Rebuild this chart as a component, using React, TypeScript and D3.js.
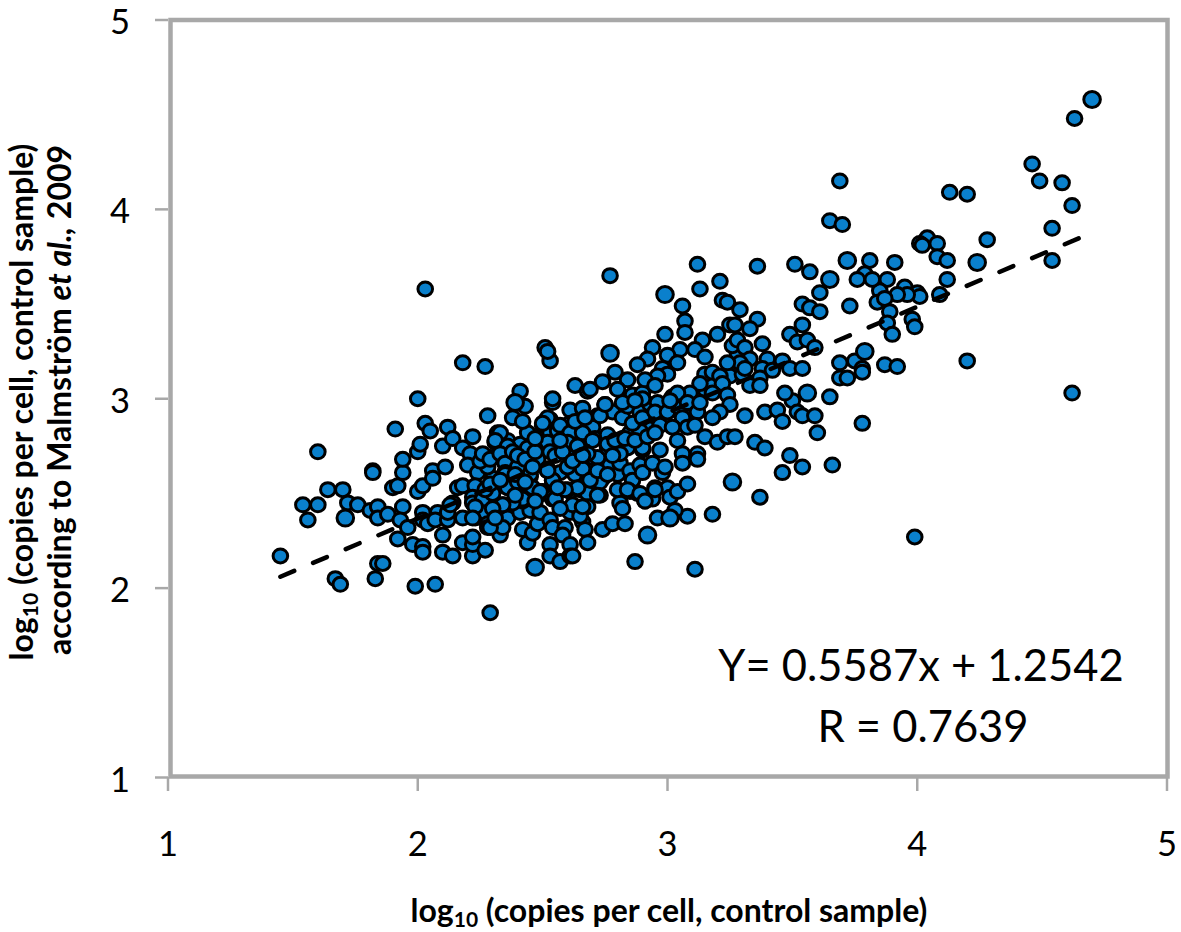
import React from "react";
import * as d3 from "d3";

// values: [log10 copies control, log10 copies Malmström]
const lowTail: number[][] = [
  [1.45,2.17],[1.67,2.05],[1.69,2.02],[1.83,2.05],[1.84,2.13],[1.86,2.13],[1.99,2.01],[2.07,2.02],[2.29,1.87],
  [1.54,2.44],[1.60,2.44],[1.56,2.36],[1.64,2.52],[1.70,2.52],[1.72,2.45],[1.71,2.37],[1.76,2.44],[1.81,2.41],
  [1.84,2.43],[1.84,2.37],[1.88,2.39],[1.94,2.43],[1.93,2.36],[1.92,2.26],[1.96,2.32],[1.98,2.23],[2.02,2.22],
  [2.02,2.19],[2.10,2.19],[2.14,2.17],[2.10,2.28],[2.18,2.24],[2.22,2.17],[2.22,2.23],[2.27,2.20],[2.22,2.27],
  [1.60,2.72],[1.82,2.62],[1.82,2.61],[1.90,2.53],[1.92,2.54],[1.94,2.61],[1.94,2.68],[1.91,2.84],[2.00,3.00],
  [2.00,2.72],[2.01,2.76],[2.03,2.87],[2.05,2.83],[2.10,2.75],[2.12,2.85],[2.14,2.79],[2.18,2.74],[2.22,2.80],
  [2.21,2.71],[2.18,3.19],[2.27,3.17],[2.28,2.91],[2.00,2.51],[2.02,2.54],[2.06,2.62],[2.06,2.58],[2.11,2.64],
  [2.16,2.53],[2.18,2.54],[2.20,2.65],[2.24,2.61],[2.23,2.54],[2.22,2.48],[2.22,2.45],[2.14,2.45],[2.02,2.40],
  [2.02,2.36],[2.04,2.34],[2.08,2.40],[2.07,2.36],[2.12,2.36],[2.12,2.40],[2.18,2.37],[2.23,2.37],[2.27,2.40],
  [2.28,2.34],[2.28,2.32],[2.03,3.58],
];

const denseLeft: number[][] = [
  [2.33,2.28],[2.42,2.31],[2.44,2.24],[2.46,2.29],[2.53,2.23],[2.53,2.17],[2.57,2.14],[2.34,2.44],[2.35,2.40],
  [2.36,2.37],[2.34,2.32],[2.41,2.40],[2.45,2.41],[2.48,2.34],[2.49,2.40],[2.53,2.36],[2.54,2.32],[2.50,2.50],
  [2.54,2.47],[2.42,2.46],[2.40,2.49],[2.36,2.53],[2.30,2.58],[2.35,2.61],[2.41,2.64],[2.45,2.59],[2.45,2.53],
  [2.28,2.64],[2.25,2.67],[2.29,2.69],[2.33,2.69],[2.35,2.67],[2.38,2.69],[2.48,2.68],[2.52,2.62],[2.54,2.57],
  [2.31,2.77],[2.32,2.82],[2.36,2.78],[2.41,2.76],[2.44,2.82],[2.44,2.74],[2.38,2.90],[2.42,2.88],[2.39,2.98],
  [2.41,3.04],[2.43,2.96],[2.50,2.86],[2.53,2.89],[2.54,2.98],[2.54,3.00],[2.53,2.73],[2.52,2.78],[2.51,3.27],
  [2.53,3.20],[2.52,3.25],[2.33,2.82],[2.31,2.78],[2.36,2.75],[2.53,2.82],[2.52,2.77],[2.56,2.83],[2.52,2.90],
  [2.50,2.87],[2.53,2.72],[2.26,2.71],[2.29,2.68],[2.33,2.71],[2.35,2.66],[2.40,2.64],[2.35,2.61],[2.46,2.53],
  [2.52,2.63],[2.57,2.61],[2.54,2.57],[2.36,2.53],[2.40,2.56],[2.50,2.51],[2.54,2.48],[2.42,2.47],[2.38,2.45],
  [2.34,2.44],[2.26,2.47],[2.30,2.50],
];

const denseCentre: number[][] = [
  [2.61,2.94],[2.66,2.95],[2.72,2.91],[2.75,2.97],[2.63,3.07],[2.68,3.04],[2.61,2.87],[2.60,2.77],[2.67,2.81],
  [2.70,2.85],[2.71,2.79],[2.76,2.80],[2.60,2.64],[2.66,2.63],[2.63,2.60],[2.70,2.58],[2.74,2.66],[2.70,2.69],
  [2.61,2.51],[2.65,2.52],[2.73,2.49],[2.57,2.86],[2.61,2.82],[2.66,2.82],[2.78,2.93],[2.82,2.90],[2.73,2.91],
  [2.84,2.96],[2.85,2.82],[2.89,2.82],[2.94,2.88],[2.98,2.88],[2.76,2.81],[2.89,2.93],[2.93,2.97],[2.86,3.02],
  [2.90,3.03],[2.96,2.98],[2.75,2.97],[2.77,2.65],[2.80,2.60],[2.74,2.58],[2.73,2.56],[2.68,2.57],[2.66,2.63],
  [2.60,2.64],[2.54,2.57],[2.52,2.62],[2.72,2.69],[2.68,2.71],[2.63,2.70],[2.60,2.77],[2.76,2.74],[2.70,2.78],
  [2.81,2.66],[2.84,2.74],[2.81,2.71],[2.85,2.62],[2.86,2.57],[2.90,2.73],[2.89,2.65],[2.90,2.61],[2.97,2.73],
  [2.94,2.66],[2.98,2.61],[2.99,2.64],[2.81,2.45],[2.82,2.42],[2.80,2.52],[2.85,2.51],[2.88,2.50],[2.91,2.46],
  [2.94,2.47],[2.95,2.53],[3.00,2.53],[3.01,2.48],[3.04,2.51],[2.60,2.52],[2.68,2.50],[2.72,2.49],[2.64,2.53],
  [2.61,2.40],[2.65,2.40],[2.62,2.44],[2.68,2.43],[2.66,2.35],[2.59,2.32],[2.58,2.28],[2.61,2.23],[2.61,2.17],
  [2.67,2.31],[2.68,2.24],[2.74,2.31],[2.78,2.34],[2.83,2.34],[2.96,2.37],[3.01,2.37],[3.03,2.40],[3.08,2.38],
  [2.87,2.14],[3.11,2.10],[2.92,2.28],[3.18,2.39],[3.08,2.55],
];

const stackedExtras: number[][] = [
  [2.90,3.00],[2.93,2.84],[2.97,2.86],[2.89,2.83],[2.76,2.76],[2.84,2.52],[2.89,2.50],[2.95,2.52],[2.35,2.60],
  [2.45,2.60],[2.49,2.51],[2.55,2.47],[2.59,2.52],[2.23,2.43],[2.13,2.44],[2.22,2.37],[2.29,2.32],[2.39,2.49],
  [2.69,2.57],[2.90,2.74],[2.91,2.46],[2.65,2.38],[2.66,2.43],[2.62,2.17],[3.03,2.41],[2.38,2.72],[2.40,2.70],
  [2.43,2.68],[2.47,2.72],[2.46,2.64],[2.39,2.60],[2.55,2.70],[2.58,2.72],[2.62,2.67],[2.64,2.75],[2.66,2.70],
  [2.72,2.62],[2.76,2.60],[2.78,2.70],[2.79,2.78],[2.83,2.79],[2.87,2.78],[2.92,2.80],[2.95,2.82],[2.86,2.87],
  [2.90,2.90],[2.82,2.98],[2.87,2.99],[2.95,2.93],[3.00,2.93],[3.05,2.95],[3.10,2.97],[3.15,3.05],[3.17,3.09],
  [3.25,3.12],[3.28,3.24],[3.30,3.13],[2.57,2.42],[2.56,2.53],[2.47,2.46],[2.30,2.42],[2.31,2.37],[2.27,2.52],
  [2.29,2.55],[2.33,2.57],[2.43,2.56],[2.47,2.79],[2.57,2.78],[2.63,2.88],[2.67,2.90],
];

const upperCloud: number[][] = [
  [2.77,3.65],[3.12,3.71],[3.36,3.70],[3.51,3.71],[3.57,3.67],[2.99,3.55],[3.06,3.49],[3.13,3.58],[3.21,3.62],
  [3.22,3.52],[3.24,3.51],[3.29,3.47],[3.36,3.42],[3.25,3.39],[3.27,3.39],[3.33,3.37],[3.54,3.50],[3.57,3.48],
  [3.61,3.46],[3.54,3.39],[3.49,3.34],[3.52,3.30],[3.56,3.31],[3.59,3.27],[3.07,3.41],[3.07,3.35],[2.99,3.34],
  [3.14,3.31],[3.20,3.34],[3.26,3.28],[3.28,3.31],[3.31,3.27],[3.38,3.29],[3.33,3.21],[3.29,3.19],[3.31,3.16],
  [3.24,3.19],[3.40,3.21],[3.38,3.16],[3.46,3.20],[3.42,3.15],[3.49,3.16],[3.54,3.16],[3.37,3.11],[3.33,3.07],
  [3.37,3.07],[2.94,3.27],[3.05,3.26],[3.11,3.26],[3.15,3.22],[3.00,3.23],[2.92,3.21],[2.88,3.18],[2.77,3.24],
  [3.04,3.19],[2.98,3.16],[3.00,3.13],[2.96,3.12],[2.91,3.10],[2.79,3.14],[2.74,3.09],[2.95,3.07],[2.84,3.10],
  [2.80,3.05],[2.69,3.05],[3.15,3.13],[3.18,3.14],[3.21,3.12],[3.13,3.08],[3.22,3.08],[3.18,3.03],[3.24,3.02],
  [3.25,2.97],[3.21,2.93],[3.18,2.90],[3.09,3.03],[3.02,3.01],[3.04,3.03],[3.01,2.99],[3.08,2.98],[3.12,2.93],
  [3.13,2.98],[3.06,2.90],[3.02,2.85],[3.08,2.85],[3.11,2.86],[3.15,2.80],[3.20,2.77],[3.24,2.80],[3.27,2.80],
  [3.04,2.78],[3.06,2.71],[3.06,2.66],[3.12,2.71],[3.12,2.68],
];

const rightSide: number[][] = [
  [3.31,2.91],[3.39,2.93],[3.44,2.94],[3.50,2.99],[3.47,3.03],[3.56,3.03],[3.65,3.01],[3.52,2.93],[3.54,2.91],
  [3.59,2.91],[3.46,2.88],[3.60,2.82],[3.35,2.77],[3.39,2.74],[3.49,2.70],[3.54,2.64],[3.66,2.65],[3.46,2.61],
  [3.26,2.56],[3.37,2.48],[4.70,4.58],[4.63,4.48],[4.46,4.24],[4.49,4.15],[4.58,4.14],[4.62,4.02],[4.54,3.90],
  [4.54,3.73],[4.28,3.84],[4.13,4.09],[4.20,4.08],[4.24,3.72],[3.69,4.15],[3.65,3.94],[3.70,3.92],[4.04,3.85],
  [4.01,3.82],[4.02,3.81],[4.08,3.82],[4.08,3.75],[4.12,3.73],[4.12,3.63],[4.09,3.55],[4.00,3.56],[4.01,3.54],
  [3.95,3.59],[3.96,3.55],[3.92,3.55],[3.88,3.63],[3.91,3.72],[3.81,3.73],[3.72,3.73],[3.85,3.57],[3.84,3.51],
  [3.87,3.53],[3.89,3.46],[3.88,3.40],[3.90,3.34],[3.98,3.42],[3.99,3.38],[3.79,3.66],[3.82,3.63],[3.76,3.63],
  [3.73,3.49],[3.65,3.63],[3.61,3.56],[4.20,3.20],[3.79,3.25],[3.75,3.20],[3.69,3.19],[3.78,3.16],[3.87,3.18],
  [3.92,3.17],[3.99,2.27],[3.78,2.87],[3.78,3.14],[3.69,3.11],[3.72,3.11],[4.62,3.03],
];

const largerPoints: number[][] = [
  [4.70,4.58],[2.99,3.55],[3.72,3.73],[3.65,3.63],[3.26,2.56],[2.47,2.11],[4.24,3.72],[3.79,3.25],[3.56,3.03],
  [2.92,2.28],[2.39,2.98],[2.77,3.24],[3.01,2.37],[1.71,2.37],
];

const trendX = [1.45, 4.67];
const trendY = [2.06, 3.86];
const xTicks = [1, 2, 3, 4, 5];
const yTicks = [1, 2, 3, 4, 5];

const FONT = "Lato, 'Noto Sans', sans-serif";
const GREY = "#a8a8a8";
const BLUE = "#0a80cc";

export default function App() {
  const x = d3.scaleLinear().domain([1, 5]).range([168, 1167]);
  const y = d3.scaleLinear().domain([1, 5]).range([777.5, 20]);
  const points = [...lowTail, ...denseLeft, ...denseCentre, ...stackedExtras, ...upperCloud, ...rightSide];
  const trend = d3.line<number>().x((d) => x(d)).y((_, i) => y(trendY[i]));

  return (
    <svg width={1181} height={932} style={{ position: "absolute", left: 0, top: 0, background: "#fff" }} fontFamily={FONT}>
      {/* ticks */}
      {yTicks.map((t) => (
        <line key={t} x1={155} x2={168} y1={y(t)} y2={y(t)} stroke={GREY} strokeWidth={2.5} />
      ))}
      {xTicks.map((t) => (
        <line key={t} x1={x(t)} x2={x(t)} y1={777} y2={791} stroke={GREY} strokeWidth={2.5} />
      ))}
      {/* frame */}
      <rect x={170.5} y={20} width={997} height={756.5} fill="none" stroke={GREY} strokeWidth={4.5} />

      {/* points */}
      {points.map(([a, b], i) => (
        <ellipse key={i} cx={x(a)} cy={y(b)} rx={7.3} ry={7} fill={BLUE} stroke="#000" strokeWidth={3} />
      ))}
      {largerPoints.map(([a, b], i) => (
        <ellipse key={i} cx={x(a)} cy={y(b)} rx={8.3} ry={8} fill={BLUE} stroke="#000" strokeWidth={3} />
      ))}

      {/* trend */}
      <path d={trend(trendX) ?? ""} fill="none" stroke="#000" strokeWidth={4.5} strokeLinecap="round" strokeDasharray="15 20.5" />

      {/* tick labels */}
      {yTicks.map((t) => (
        <text key={t} x={120} y={y(t) + 14} fontSize={34.5} textAnchor="middle" fill="#000">{t}</text>
      ))}
      {xTicks.map((t) => (
        <text key={t} x={x(t)} y={856} fontSize={34.5} textAnchor="middle" fill="#000">{t}</text>
      ))}

      {/* axis titles */}
      <text x={669} y={922} fontSize={32} fontWeight={700} textAnchor="middle" fill="#000">
        log<tspan fontSize={21} dy={5}>10</tspan><tspan dy={-5}> (copies per cell, control sample)</tspan>
      </text>
      <g transform="translate(32.5,402) rotate(-90)">
        <text fontSize={32} fontWeight={700} textAnchor="middle" fill="#000">
          log<tspan fontSize={21} dy={5}>10</tspan><tspan dy={-5}> (copies per cell, control sample)</tspan>
        </text>
      </g>
      <g transform="translate(71,400) rotate(-90)">
        <text fontSize={32} fontWeight={700} textAnchor="middle" fill="#000">
          according to Malmström <tspan fontStyle="italic">et al.,</tspan> 2009
        </text>
      </g>

      {/* annotation */}
      <text x={921} y={681} fontSize={43.5} textAnchor="middle" fill="#000">Y= 0.5587x + 1.2542</text>
      <text x={923} y={742} fontSize={43.5} textAnchor="middle" fill="#000">R = 0.7639</text>
    </svg>
  );
}
